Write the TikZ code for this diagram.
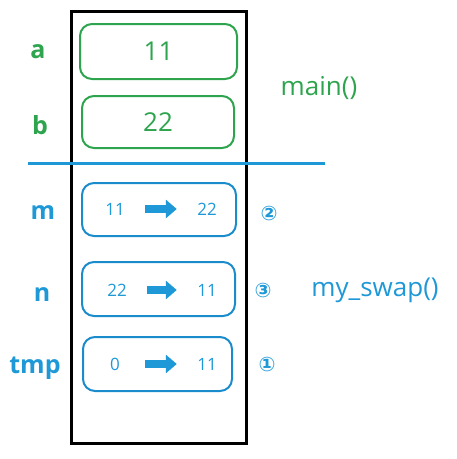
\documentclass[tikz,border=0pt]{standalone}
\usepackage{fontspec}
\setmainfont{Open Sans}
\newfontfamily\circfont{DejaVu Sans}
\usepackage{tikz}
\usetikzlibrary{arrows.meta}
\definecolor{mgreen}{RGB}{46,164,78}
\definecolor{sblue}{RGB}{30,152,214}
\definecolor{sline}{RGB}{26,140,204}

\begin{document}
\begin{tikzpicture}[x=1pt, y=-1pt,
  var/.style={inner sep=0pt, font=\bfseries\fontsize{25}{25}\selectfont},
  cell/.style={draw, line width=2pt, rounded corners=12pt, inner sep=0pt},
  val/.style={inner sep=0pt, minimum width=22pt, text=sblue, font=\fontsize{17}{17}\selectfont},
  step no/.style={inner sep=0pt, text=sblue, font=\circfont\bfseries\fontsize{20}{20}\selectfont},
  fname/.style={inner sep=0pt, font=\fontsize{26}{26}\selectfont},
  swaparrow/.style={sblue, line width=8pt, -{Triangle[length=11pt, width=18pt]}, shorten <=19pt, shorten >=19pt}]
\useasboundingbox (0,0) rectangle (457,459);
\draw[line width=3pt] (71,11) rectangle (246,443);
%main
\path (38,52) node[var, text=mgreen] (a) {a};
\path (40,125) node[var, text=mgreen] (b) {b};
\path (158.5,51.5) node[cell, draw=mgreen, minimum width=157pt, minimum height=55pt, text=mgreen, font=\fontsize{26}{26}\selectfont] (cella) {11};
\path (158,122) node[cell, draw=mgreen, minimum width=152pt, minimum height=52pt, text=mgreen, font=\fontsize{26}{26}\selectfont] (cellb) {22};
\path (319,88) node[fname, text=mgreen] (main) {main()};
\draw[sblue, line width=3pt] (28,163) -- (325,163);
%my_swap
\path (43,213) node[var, text=sblue] (m) {m};
\path (42,295) node[var, text=sblue] (n) {n};
\path (35,368) node[var, text=sblue] (tmp) {tmp};
\path (159,209.5) node[cell, draw=sline, minimum width=154pt, minimum height=53pt] (cellm) {};
\path (158.5,289) node[cell, draw=sline, minimum width=153pt, minimum height=54pt] (celln) {};
\path (157.5,364) node[cell, draw=sline, minimum width=149pt, minimum height=54pt] (celltmp) {};
\path (115,209) node[val] (mold) {11};
\path (207,209) node[val] (mnew) {22};
\path (117,290) node[val] (nold) {22};
\path (207,290) node[val] (nnew) {11};
\path (115,364) node[val] (tmpold) {0};
\path (207,364) node[val] (tmpnew) {11};
\draw[swaparrow] (mold) -- (mnew);
\draw[swaparrow] (nold) -- (nnew);
\draw[swaparrow] (tmpold) -- (tmpnew);
\path (269,213) node[step no] (s2) {②};
\path (263,290) node[step no] (s3) {③};
\path (267,364) node[step no] (s1) {①};
\path (375,290) node[fname, text=sblue] (swap) {my\_swap()};
\end{tikzpicture}
\end{document}
